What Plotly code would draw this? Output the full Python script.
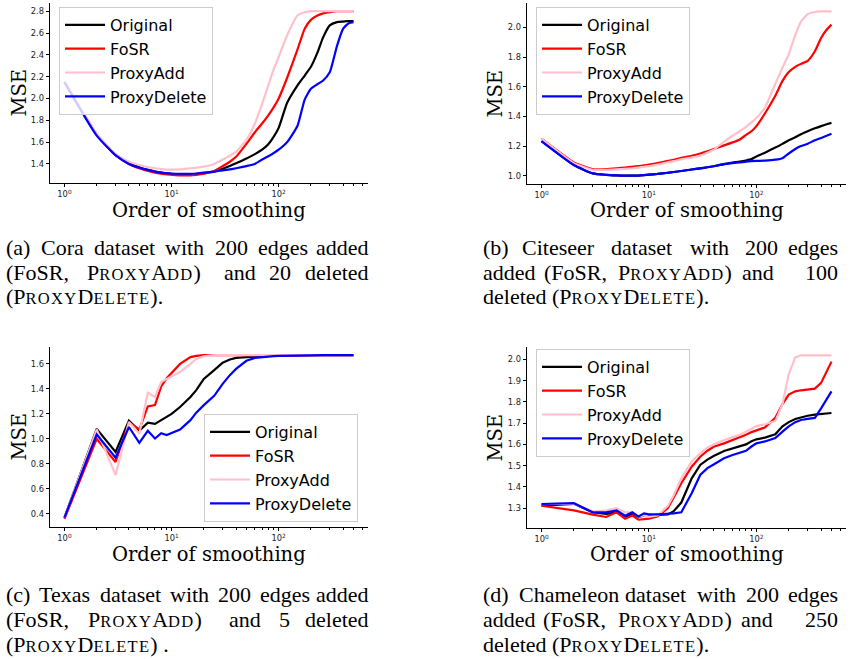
import plotly.graph_objects as go

W, H = 852, 659

# ---------------- data ----------------
orders = [1, 2, 3, 4, 5, 6, 7, 8, 9, 10, 12, 15, 17, 20, 25, 30, 35, 40, 50, 60,
          70, 80, 90, 100, 120, 150, 175, 200, 230, 260, 300, 350, 400, 450, 500]

series_names = ["Original", "FoSR", "ProxyAdd", "ProxyDelete"]

cora_original = [2.15, 1.67, 1.48, 1.41, 1.37, 1.345, 1.33, 1.32, 1.313, 1.31, 1.305, 1.305, 1.307, 1.315, 1.328,
                 1.355, 1.38, 1.405, 1.45, 1.49, 1.53, 1.58, 1.65, 1.73, 1.96, 2.12, 2.21, 2.29, 2.42, 2.56,
                 2.67, 2.70, 2.705, 2.71, 2.71]
cora_fosr = [2.15, 1.67, 1.48, 1.40, 1.36, 1.335, 1.32, 1.31, 1.303, 1.30, 1.295, 1.295, 1.30, 1.31, 1.335,
             1.38, 1.42, 1.465, 1.585, 1.69, 1.77, 1.845, 1.92, 2.00, 2.19, 2.45, 2.64, 2.72, 2.76, 2.78,
             2.79, 2.80, 2.80, 2.80, 2.80]
cora_proxyadd = [2.15, 1.68, 1.49, 1.42, 1.39, 1.37, 1.36, 1.352, 1.348, 1.347, 1.35, 1.36, 1.365, 1.375, 1.40,
                 1.44, 1.475, 1.51, 1.62, 1.77, 1.95, 2.12, 2.27, 2.38, 2.58, 2.76, 2.79, 2.80, 2.80, 2.80,
                 2.80, 2.80, 2.80, 2.80, 2.80]
cora_proxydelete = [2.15, 1.66, 1.48, 1.40, 1.365, 1.345, 1.33, 1.32, 1.315, 1.31, 1.31, 1.31, 1.312, 1.32, 1.33,
                    1.34, 1.35, 1.36, 1.38, 1.40, 1.44, 1.47, 1.50, 1.53, 1.60, 1.75, 1.99, 2.09, 2.13, 2.165,
                    2.24, 2.48, 2.64, 2.69, 2.70]

cite_original = [1.233, 1.072, 1.016, 1.006, 1.002, 1.0, 1.0, 1.001, 1.004, 1.007, 1.012, 1.02, 1.025, 1.032, 1.042,
                 1.05, 1.057, 1.064, 1.078, 1.088, 1.095, 1.103, 1.112, 1.13, 1.155, 1.19, 1.215, 1.24, 1.26, 1.28,
                 1.30, 1.32, 1.335, 1.347, 1.357]
cite_fosr = [1.25, 1.09, 1.045, 1.045, 1.05, 1.055, 1.06, 1.065, 1.07, 1.075, 1.085, 1.10, 1.108, 1.12, 1.135,
             1.15, 1.165, 1.18, 1.205, 1.225, 1.245, 1.275, 1.30, 1.335, 1.42, 1.54, 1.64, 1.70, 1.735, 1.755,
             1.775, 1.84, 1.93, 1.985, 2.02]
cite_proxyadd = [1.25, 1.085, 1.04, 1.04, 1.043, 1.046, 1.05, 1.055, 1.06, 1.065, 1.075, 1.09, 1.098, 1.11, 1.122,
                 1.135, 1.155, 1.175, 1.23, 1.27, 1.30, 1.33, 1.36, 1.39, 1.46, 1.62, 1.73, 1.82, 1.95, 2.04,
                 2.09, 2.105, 2.11, 2.11, 2.11]
cite_proxydelete = [1.233, 1.072, 1.016, 1.006, 1.002, 1.0, 1.0, 1.001, 1.004, 1.007, 1.012, 1.02, 1.025, 1.032, 1.042,
                    1.05, 1.057, 1.064, 1.078, 1.085, 1.09, 1.095, 1.098, 1.10, 1.102, 1.108, 1.118, 1.15, 1.18, 1.20,
                    1.215, 1.24, 1.255, 1.27, 1.283]

texas_original = [0.37, 1.08, 0.895, 1.145, 1.065, 1.13, 1.12, 1.15, 1.175, 1.20, 1.255, 1.335, 1.39, 1.48, 1.55,
                  1.61, 1.635, 1.648, 1.655, 1.66, 1.662, 1.664, 1.665, 1.666, 1.667, 1.668, 1.668, 1.669, 1.669, 1.67,
                  1.67, 1.67, 1.67, 1.67, 1.67]
texas_fosr = [0.36, 1.0, 0.815, 1.13, 1.075, 1.26, 1.27, 1.42, 1.485, 1.525, 1.60, 1.655, 1.665, 1.67, 1.67,
              1.67, 1.67, 1.67, 1.67, 1.67, 1.67, 1.67, 1.67, 1.67, 1.67, 1.67, 1.67, 1.67, 1.67, 1.67,
              1.67, 1.67, 1.67, 1.67, 1.67]
texas_proxyadd = [0.37, 1.075, 0.71, 1.135, 1.04, 1.37, 1.335, 1.455, 1.48, 1.50, 1.535, 1.60, 1.64, 1.66, 1.67,
                  1.67, 1.67, 1.67, 1.67, 1.67, 1.67, 1.67, 1.67, 1.67, 1.67, 1.67, 1.67, 1.67, 1.67, 1.67,
                  1.67, 1.67, 1.67, 1.67, 1.67]
texas_proxydelete = [0.37, 1.035, 0.85, 1.095, 0.968, 1.065, 1.003, 1.045, 1.03, 1.045, 1.075, 1.15, 1.21, 1.27, 1.345,
                     1.44, 1.51, 1.56, 1.625, 1.648, 1.655, 1.66, 1.663, 1.665, 1.667, 1.668, 1.668, 1.669, 1.669, 1.67,
                     1.67, 1.67, 1.67, 1.67, 1.67]

cham_original = [1.311, 1.32, 1.28, 1.272, 1.28, 1.26, 1.27, 1.258, 1.264, 1.265, 1.268, 1.27, 1.285, 1.326, 1.44,
                 1.503, 1.528, 1.545, 1.569, 1.58, 1.589, 1.60, 1.615, 1.624, 1.632, 1.648, 1.685, 1.705, 1.72, 1.728,
                 1.735, 1.74, 1.742, 1.745, 1.748]
cham_fosr = [1.311, 1.289, 1.269, 1.258, 1.28, 1.25, 1.265, 1.245, 1.248, 1.25, 1.26, 1.30, 1.35, 1.417, 1.495,
             1.542, 1.57, 1.589, 1.605, 1.62, 1.633, 1.645, 1.658, 1.667, 1.68, 1.725, 1.79, 1.835, 1.85, 1.855,
             1.86, 1.863, 1.89, 1.94, 1.99]
cham_proxyadd = [1.319, 1.32, 1.285, 1.289, 1.30, 1.28, 1.28, 1.26, 1.265, 1.26, 1.265, 1.31, 1.36, 1.44, 1.519,
                 1.558, 1.585, 1.60, 1.62, 1.635, 1.645, 1.66, 1.675, 1.686, 1.695, 1.71, 1.79, 1.93, 2.01, 2.02,
                 2.02, 2.02, 2.02, 2.02, 2.02]
cham_proxydelete = [1.319, 1.323, 1.28, 1.28, 1.289, 1.264, 1.28, 1.26, 1.275, 1.27, 1.27, 1.272, 1.275, 1.28, 1.37,
                    1.456, 1.488, 1.505, 1.535, 1.55, 1.561, 1.57, 1.59, 1.605, 1.614, 1.63, 1.66, 1.685, 1.705, 1.715,
                    1.72, 1.725, 1.77, 1.81, 1.85]

x_tick_vals = [1, 10, 100]
x_tick_text = ["10<sup>0</sup>", "10<sup>1</sup>", "10<sup>2</sup>"]
x_minor_vals = [2, 3, 4, 5, 6, 7, 8, 9, 20, 30, 40, 50, 60, 70, 80, 90, 200, 300, 400, 500, 600]

cora_yticks = [1.4, 1.6, 1.8, 2.0, 2.2, 2.4, 2.6, 2.8]
cite_yticks = [1.0, 1.2, 1.4, 1.6, 1.8, 2.0]
texas_yticks = [0.4, 0.6, 0.8, 1.0, 1.2, 1.4, 1.6]
cham_yticks = [1.3, 1.4, 1.5, 1.6, 1.7, 1.8, 1.9, 2.0]

x_label = "Order of smoothing"
y_label = "MSE"

# ---------------- styling / layout ----------------
colors = ["black", "red", "pink", "blue"]


def px(x):
    return x / W


def py(y):
    return 1 - y / H


panels = [
    dict(data=[cora_original, cora_fosr, cora_proxyadd, cora_proxydelete], yt=cora_yticks,
         xd=(50, 368), yd=(3, 183), yr=(1.225, 2.875), leg=(59, 7), shape="spline"),
    dict(data=[cite_original, cite_fosr, cite_proxyadd, cite_proxydelete], yt=cite_yticks,
         xd=(527, 846), yd=(3, 184), yr=(0.944, 2.166), leg=(536, 7), shape="spline"),
    dict(data=[texas_original, texas_fosr, texas_proxyadd, texas_proxydelete], yt=texas_yticks,
         xd=(50, 368), yd=(347, 527), yr=(0.2945, 1.7355), leg=(204, 414), shape="linear"),
    dict(data=[cham_original, cham_fosr, cham_proxyadd, cham_proxydelete], yt=cham_yticks,
         xd=(527, 846), yd=(347, 528), yr=(1.206, 2.059), leg=(536, 349), shape="linear"),
]

fig = go.Figure()
layout = dict(
    width=W, height=H, margin=dict(l=0, r=0, t=0, b=0),
    paper_bgcolor="white", plot_bgcolor="white", showlegend=True,
)

tick_font = dict(family="DejaVu Sans", size=8.3, color="#222222")
annotations = []

for i, p in enumerate(panels):
    n = i + 1
    xa = "x" if n == 1 else f"x{n}"
    ya = "y" if n == 1 else f"y{n}"
    leg = "legend" if n == 1 else f"legend{n}"
    for name, vals, col in zip(series_names, p["data"], colors):
        fig.add_trace(go.Scatter(
            x=orders, y=vals, mode="lines", name=name,
            line=dict(color=col, width=2.2, shape=p["shape"], smoothing=0.5),
            xaxis=xa, yaxis=ya, legend=leg, showlegend=True,
        ))
    xkey = "xaxis" if n == 1 else f"xaxis{n}"
    ykey = "yaxis" if n == 1 else f"yaxis{n}"
    layout[xkey] = dict(
        domain=[px(p["xd"][0]), px(p["xd"][1])], anchor=ya, type="log",
        range=[-0.135, 2.834], tickvals=x_tick_vals, ticktext=x_tick_text,
        ticks="outside", ticklen=3.5, tickwidth=0.8, tickcolor="black",
        showline=True, linecolor="black", linewidth=0.8, showgrid=False, zeroline=False,
        tickfont=tick_font,
        minor=dict(tickvals=x_minor_vals, ticks="outside", ticklen=2, tickwidth=0.6,
                   tickcolor="black", showgrid=False),
    )
    layout[ykey] = dict(
        domain=[py(p["yd"][1]), py(p["yd"][0])], anchor=xa, range=list(p["yr"]),
        tickvals=p["yt"], ticktext=[f"{v:.1f}" for v in p["yt"]],
        ticks="outside", ticklen=3.5, tickwidth=0.8, tickcolor="black",
        showline=True, linecolor="black", linewidth=0.8, showgrid=False, zeroline=False,
        tickfont=tick_font,
    )
    layout[leg] = dict(
        x=px(p["leg"][0]), y=py(p["leg"][1]), xanchor="left", yanchor="top",
        bgcolor="rgba(255,255,255,0.8)", bordercolor="#cccccc", borderwidth=1,
        font=dict(family="DejaVu Sans", size=16, color="black"),
        itemwidth=40, tracegroupgap=0,
    )
    xc = (p["xd"][0] + p["xd"][1]) / 2
    yc = (p["yd"][0] + p["yd"][1]) / 2
    annotations.append(dict(
        text=x_label, x=px(xc), y=py(210 if i < 2 else 554), xref="paper", yref="paper",
        showarrow=False, xanchor="center", yanchor="middle", borderpad=0,
        font=dict(family="DejaVu Serif", size=19.5, color="black")))
    annotations.append(dict(
        text=y_label, x=px(18.5 if i % 2 == 0 else 495), y=py(yc), xref="paper", yref="paper",
        showarrow=False, xanchor="center", yanchor="middle", textangle=-90,
        font=dict(family="DejaVu Serif", size=19.5, color="black")))

# ---------------- captions (justified by placing words) ----------------
SC = 'font-size:16.5px;letter-spacing:1.3px'
PA = f'P<span style="{SC}">ROXY</span>A<span style="{SC}">DD</span>)'
PD = f'(P<span style="{SC}">ROXY</span>D<span style="{SC}">ELETE</span>)'

caption_lines = [
    # words with left x px (None = right-aligned at the line's right edge), y px, right edge
    ([("(a)", 5), ("Cora", 40), ("dataset", 93), ("with", 164), ("200", 214), ("edges", 257), ("added", None)], 247, 370),
    ([("(FoSR,", 5), (PA, 86), ("and", 223), ("20", 268), ("deleted", None)], 272, 370),
    ([(PD + ".", 5)], 297, None),

    ([("(b)", 482), ("Citeseer", 521), ("dataset", 610), ("with", 689), ("200", 744), ("edges", None)], 247, 839),
    ([("added", 482), ("(FoSR,", 543), (PA, 617), ("and", 741), ("100", None)], 272, 839),
    ([("deleted " + PD + ".", 482)], 297, None),

    ([("(c)", 5), ("Texas", 38), ("dataset", 99), ("with", 169), ("200", 217), ("edges", 259), ("added", None)], 594, 370),
    ([("(FoSR,", 5), (PA, 87), ("and", 228), ("5", 278), ("deleted", None)], 619, 370),
    ([(PD + " .", 5)], 644, None),

    ([("(d)", 482), ("Chameleon", 518), ("dataset", 624), ("with", 696), ("200", 745), ("edges", None)], 594, 839),
    ([("added", 482), ("(FoSR,", 542), (PA, 617), ("and", 740), ("250", None)], 619, 839),
    ([("deleted " + PD + ".", 482)], 644, None),
]
for words, y, right in caption_lines:
    for txt, x in words:
        if x is None:
            xx, anc = right, "right"
        else:
            xx, anc = x, "left"
        annotations.append(dict(
            text=txt, x=px(xx), y=py(y), xref="paper", yref="paper", showarrow=False,
            xanchor=anc, yanchor="middle", borderpad=0,
            font=dict(family="Liberation Serif", size=22, color="black")))

layout["annotations"] = annotations
fig.update_layout(**layout)
fig.write_html("out.html", config={"displayModeBar": False},
               post_script="document.body.style.margin='0';document.body.style.padding='0';")
